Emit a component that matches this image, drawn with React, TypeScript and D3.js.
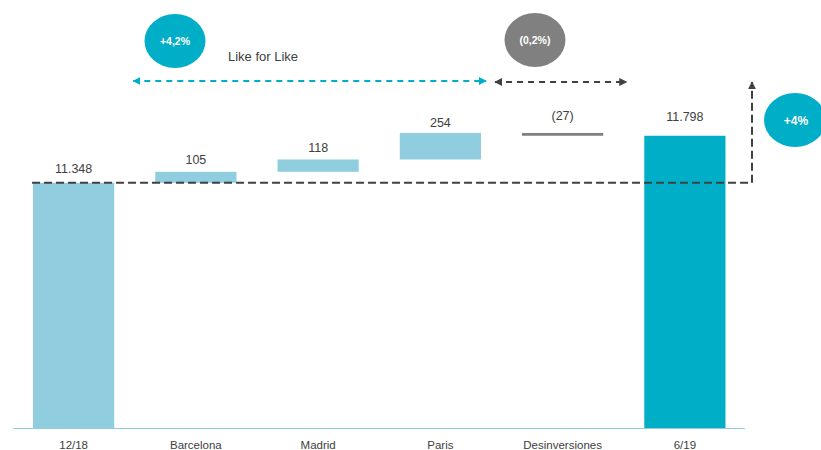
import React from "react";
import * as d3 from "d3";

const categories = ["12/18", "Barcelona", "Madrid", "Paris", "Desinversiones", "6/19"];
const values = [11348, 105, 118, 254, -27, 11798];
const kinds = ["total", "delta", "delta", "delta", "delta", "total"];
const valueLabels = ["11.348", "105", "118", "254", "(27)", "11.798"];
const bubbleLabels = ["+4,2%", "(0,2%)", "+4%"];
const lflLabel = "Like for Like";

const W = 821;
const H = 450;
const FONT = "Liberation Sans, Arial, Helvetica, sans-serif";
const LIGHT = "#8FCDDF";
const TEAL = "#00AEC7";
const GREY = "#808080";
const DARK = "#404040";
const labelGaps = [10, 8, 7, 6, 13, 15];

export default function App() {
  const x = d3.scaleBand<string>().domain(categories).range([12.5, 746]).paddingInner(0.336).paddingOuter(0.168);
  const y = d3.scaleLinear().domain([9000, 12000]).range([428, 114.67]);

  let cum = 0;
  const bars = categories.map((c, i) => {
    let lo: number, hi: number;
    if (kinds[i] === "total") {
      lo = y.domain()[0];
      hi = values[i];
      cum = values[i];
    } else {
      const start = cum;
      cum = cum + values[i];
      lo = Math.min(start, cum);
      hi = Math.max(start, cum);
    }
    const color = i === categories.length - 1 ? TEAL : values[i] < 0 ? GREY : LIGHT;
    const topVal = kinds[i] === "total" ? hi : values[i] < 0 ? hi : hi;
    return { c, i, lo, hi, color, topVal };
  });

  const refY = y(values[0]);
  const arrowY = 81;
  const xFirst = x(categories[0])!;
  const xB = x(categories[1])!;
  const xD = x(categories[4])!;
  const xLast = x(categories[5])! + x.bandwidth();
  const vertX = 752;

  return (
    <svg width={W} height={H} style={{ position: "absolute", left: 0, top: 0, background: "#fff" }} fontFamily={FONT}>
      <defs>
        <marker id="aTeal" viewBox="0 0 10 10" refX="9" refY="5" markerWidth="4" markerHeight="4" orient="auto-start-reverse" markerUnits="strokeWidth">
          <path d="M0,0 L10,5 L0,10 z" fill={TEAL} />
        </marker>
        <marker id="aDark" viewBox="0 0 10 10" refX="9" refY="5" markerWidth="4" markerHeight="4" orient="auto-start-reverse" markerUnits="strokeWidth">
          <path d="M0,0 L10,5 L0,10 z" fill={DARK} />
        </marker>
      </defs>

      {bars.map((b) => (
        <rect key={b.c} x={x(b.c)} y={y(b.hi)} width={x.bandwidth()} height={Math.max(1, y(b.lo) - y(b.hi))} fill={b.color} />
      ))}

      {/* axis line */}
      <line x1={13} x2={745} y1={428.5} y2={428.5} stroke={LIGHT} strokeWidth={1.2} />

      {categories.map((c) => (
        <text key={c} x={x(c)! + x.bandwidth() / 2} y={449} textAnchor="middle" fontSize={11.5} fill={DARK}>
          {c}
        </text>
      ))}

      {bars.map((b) => (
        <text key={"v" + b.c} x={x(b.c)! + x.bandwidth() / 2} y={y(b.topVal) - labelGaps[b.i]} textAnchor="middle" fontSize={12.5} fill={DARK}>
          {valueLabels[b.i]}
        </text>
      ))}

      {/* reference dashed line + vertical arrow */}
      <path
        d={`M${xFirst - 1},${refY} L${vertX},${refY} L${vertX},${arrowY + 1}`}
        fill="none"
        stroke={DARK}
        strokeWidth={2}
        strokeDasharray="8,4"
        markerEnd="url(#aDark)"
      />

      {/* like for like arrow */}
      <line x1={xB - 22} x2={xD - 36} y1={arrowY} y2={arrowY} stroke={TEAL} strokeWidth={2} strokeDasharray="6,5" markerStart="url(#aTeal)" markerEnd="url(#aTeal)" />
      {/* desinversiones arrow */}
      <line x1={xD - 27} x2={xLast - 99} y1={arrowY + 1} y2={arrowY + 1} stroke={DARK} strokeWidth={2} strokeDasharray="6,5" markerStart="url(#aDark)" markerEnd="url(#aDark)" />

      <text x={228} y={61} fontSize={13} fill={DARK}>
        {lflLabel}
      </text>

      {/* bubbles */}
      <ellipse cx={175} cy={41} rx={30.5} ry={27} fill={TEAL} />
      <text x={175} y={45} textAnchor="middle" fontSize={10.5} fontWeight="bold" fill="#fff">
        {bubbleLabels[0]}
      </text>
      <ellipse cx={535} cy={40} rx={30.5} ry={27} fill={GREY} />
      <text x={535} y={44} textAnchor="middle" fontSize={10.5} fontWeight="bold" fill="#fff">
        {bubbleLabels[1]}
      </text>
      <ellipse cx={795} cy={120} rx={31} ry={27} fill={TEAL} />
      <text x={796} y={125} textAnchor="middle" fontSize={12} fontWeight="bold" fill="#fff">
        {bubbleLabels[2]}
      </text>
    </svg>
  );
}
